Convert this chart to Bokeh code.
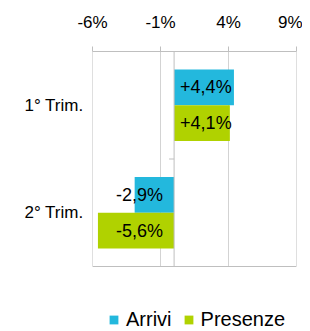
from bokeh.plotting import figure
from bokeh.models import ColumnDataSource, Range1d, FixedTicker, Legend, LegendItem
from bokeh.core.properties import value
from bokeh.embed import file_html
from bokeh.resources import INLINE

categories = ["1° Trim.", "2° Trim."]
series_names = ["Arrivi", "Presenze"]
arrivi = [4.4, -2.9]
presenze = [4.1, -5.6]
x_ticks = [-6, -1, 4, 9]
x_tick_labels = ["-6%", "-1%", "4%", "9%"]
colors = ["#23B8DD", "#B0D200"]

FONT = "Liberation Sans"
GRID = "#d3d3d3"
AXIS = "#bfbfbf"

W, H = 302, 331
TOP, LEFT, RIGHT = 51, 92, 6
PLOT_PX = 215            # pixel height of the category area
n = len(categories)
pos = [n - 1 - i for i in range(n)]  # first category on top
y_top = n - 0.5
y_bot = -0.5
units_per_px = n / PLOT_PX
y_min = y_top - (H - TOP) * units_per_px

p = figure(width=W, height=H, output_backend="svg", toolbar_location=None,
           x_range=Range1d(x_ticks[0], x_ticks[-1]), y_range=Range1d(y_min, y_top),
           x_axis_location="above", min_border_left=LEFT, min_border_right=RIGHT,
           min_border_top=TOP, min_border_bottom=0)
p.outline_line_color = None
p.background_fill_color = "white"
p.border_fill_color = "white"
p.xgrid.grid_line_color = None
p.ygrid.grid_line_color = None

# grid lines (only over the category area)
inner = x_ticks[1:-1]
p.segment(x0=inner, x1=inner, y0=[y_bot] * len(inner), y1=[y_top] * len(inner),
          line_color=GRID, line_width=1)
edges = [x_ticks[0], x_ticks[-1]]
p.segment(x0=edges, x1=edges, y0=[y_bot] * 2, y1=[y_top] * 2, line_color=AXIS, line_width=1)
p.segment(x0=[x_ticks[0]], x1=[x_ticks[-1]], y0=[y_bot], y1=[y_bot], line_color=AXIS, line_width=1)

bar_h = 1 / 3
renderers = []
for k, (vals, col) in enumerate(zip([arrivi, presenze], colors)):
    ys = [y + (bar_h / 2 if k == 0 else -bar_h / 2) for y in pos]
    src = ColumnDataSource(dict(
        y=ys, right=vals,
        lab=[("+" if v > 0 else "") + f"{v:.1f}".replace(".", ",") + "%" for v in vals],
        align=["left" if v > 0 else "right" for v in vals],
        off=[6 if v > 0 else -11 for v in vals],
    ))
    r = p.hbar(y="y", left=0, right="right", height=bar_h, source=src,
               fill_color=col, line_color=None)
    renderers.append(r)
    p.text(x=0, y="y", text="lab", source=src, text_align="align", x_offset="off",
           text_baseline="middle", text_font=value(FONT), text_font_size="18px",
           text_color="black")

# zero axis line and category separator ticks
p.segment(x0=[0], x1=[0], y0=[y_bot], y1=[y_top], line_color=AXIS, line_width=1)
seps = [y - 0.5 for y in pos]
p.segment(x0=[-0.37] * len(seps), x1=[0] * len(seps), y0=seps, y1=seps, line_color=AXIS, line_width=1)

# x axis (above)
xa = p.xaxis[0]
xa.ticker = FixedTicker(ticks=x_ticks)
xa.major_label_overrides = {t: l for t, l in zip(x_ticks, x_tick_labels)}
xa.major_label_text_font = FONT
xa.major_label_text_font_size = "17px"
xa.major_label_text_color = "black"
xa.axis_line_color = AXIS
xa.major_tick_line_color = AXIS
xa.major_tick_out = 5
xa.major_tick_in = 0
xa.minor_tick_line_color = None
xa.major_label_standoff = 15

ya = p.yaxis[0]
ya.ticker = FixedTicker(ticks=pos)
ya.major_label_overrides = {y: c for y, c in zip(pos, categories)}
ya.major_label_text_font = FONT
ya.major_label_text_font_size = "17px"
ya.major_label_text_color = "black"
ya.axis_line_color = None
ya.major_tick_line_color = None
ya.minor_tick_line_color = None
ya.major_label_standoff = 3

legend = Legend(items=[LegendItem(label=s, renderers=[r]) for s, r in zip(series_names, renderers)],
                orientation="horizontal", location=(16, 0), padding=0, margin=0,
                glyph_width=11, glyph_height=11, label_standoff=7, spacing=11,
                label_text_font=FONT, label_text_font_size="20px", label_text_color="black",
                border_line_alpha=0, background_fill_alpha=0)
p.add_layout(legend, "center")

open("out.html", "w").write(file_html(p, INLINE))
